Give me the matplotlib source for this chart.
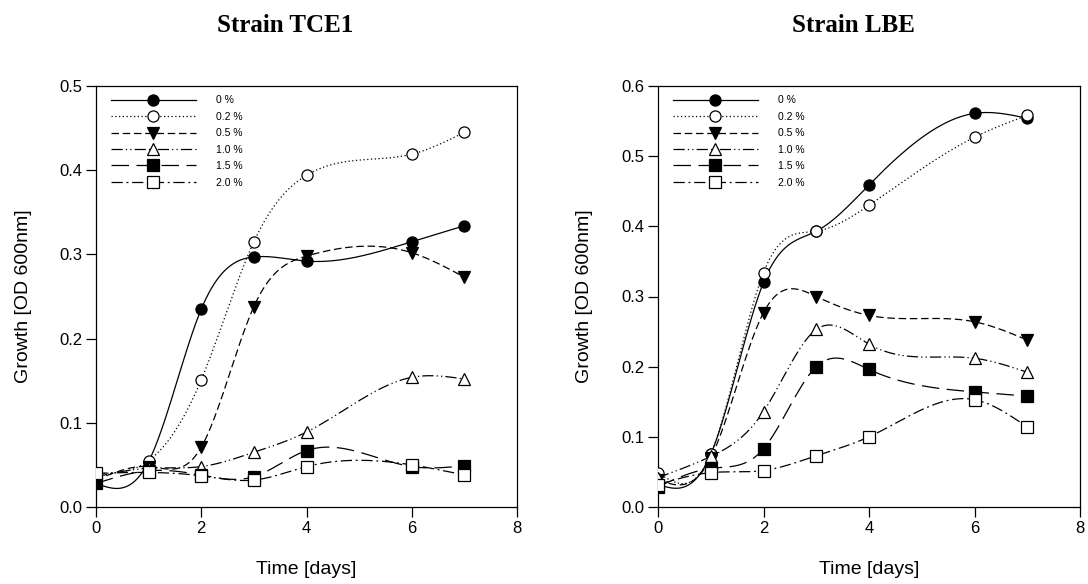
import numpy as np
import matplotlib
matplotlib.use("Agg")
import matplotlib.pyplot as plt
from matplotlib.lines import Line2D

plt.rcParams['font.family'] = ['Liberation Sans', 'DejaVu Sans']

days = [0, 1, 2, 3, 4, 6, 7]
labels = ["0 %", "0.2 %", "0.5 %", "1.0 %", "1.5 %", "2.0 %"]

# Strain TCE1
tce1_0 = [0.028, 0.054, 0.235, 0.297, 0.292, 0.315, 0.334]
tce1_02 = [0.040, 0.055, 0.151, 0.315, 0.394, 0.419, 0.445]
tce1_05 = [0.032, 0.048, 0.071, 0.238, 0.298, 0.302, 0.273]
tce1_10 = [0.036, 0.046, 0.048, 0.065, 0.089, 0.154, 0.152]
tce1_15 = [0.028, 0.043, 0.038, 0.036, 0.067, 0.048, 0.049]
tce1_20 = [0.040, 0.041, 0.037, 0.032, 0.048, 0.050, 0.038]

# Strain LBE
lbe_0 = [0.032, 0.075, 0.320, 0.393, 0.459, 0.561, 0.554]
lbe_02 = [0.049, 0.075, 0.334, 0.393, 0.430, 0.527, 0.558]
lbe_05 = [0.039, 0.070, 0.277, 0.300, 0.273, 0.264, 0.238]
lbe_10 = [0.042, 0.072, 0.136, 0.253, 0.232, 0.212, 0.192]
lbe_15 = [0.029, 0.055, 0.083, 0.200, 0.196, 0.164, 0.158]
lbe_20 = [0.032, 0.049, 0.052, 0.073, 0.100, 0.153, 0.114]

styles = [
    dict(ls='-', marker='o', mfc='black'),
    dict(ls=(0, (1, 2)), marker='o', mfc='white'),
    dict(ls=(0, (6, 3)), marker='v', mfc='black'),
    dict(ls=(0, (9, 2.5, 1, 2.5, 1, 2.5)), marker='^', mfc='white'),
    dict(ls=(0, (14, 6)), marker='s', mfc='black'),
    dict(ls=(0, (9, 3, 1.5, 3)), marker='s', mfc='white'),
]


def natural_spline(x, y, n=300):
    x = np.asarray(x, float)
    y = np.asarray(y, float)
    k = len(x)
    h = np.diff(x)
    A = np.zeros((k, k))
    r = np.zeros(k)
    A[0, 0] = 1
    A[-1, -1] = 1
    for i in range(1, k - 1):
        A[i, i - 1] = h[i - 1]
        A[i, i] = 2 * (h[i - 1] + h[i])
        A[i, i + 1] = h[i]
        r[i] = 6 * ((y[i + 1] - y[i]) / h[i] - (y[i] - y[i - 1]) / h[i - 1])
    M = np.linalg.solve(A, r)
    xs = np.linspace(x[0], x[-1], n)
    idx = np.clip(np.searchsorted(x, xs) - 1, 0, k - 2)
    x0, x1 = x[idx], x[idx + 1]
    hh = x1 - x0
    a = (x1 - xs) / hh
    b = (xs - x0) / hh
    ys = (a * y[idx] + b * y[idx + 1]
          + ((a ** 3 - a) * M[idx] + (b ** 3 - b) * M[idx + 1]) * hh ** 2 / 6)
    return xs, ys


fig = plt.figure(figsize=(10.88, 5.84), dpi=100)
W, H = 1088, 584


def make_axes(x0, x1, y0, y1):
    return fig.add_axes([x0 / W, 1 - y1 / H, (x1 - x0) / W, (y1 - y0) / H])


panels = [
    (make_axes(96, 517, 86, 507), [tce1_0, tce1_02, tce1_05, tce1_10, tce1_15, tce1_20],
     0.5, "Strain TCE1", 285),
    (make_axes(658, 1080, 86, 507), [lbe_0, lbe_02, lbe_05, lbe_10, lbe_15, lbe_20],
     0.6, "Strain LBE", 853),
]

for ax, series, ymax, title, tx in panels:
    handles = []
    for vals, st, lab in zip(series, styles, labels):
        xs, ys = natural_spline(days, vals)
        ax.plot(xs, ys, color='black', lw=0.9, linestyle=st['ls'], zorder=2)
        ax.plot(days, vals, linestyle='none', marker=st['marker'], ms=8,
                mfc=st['mfc'], mec='black', mew=0.9, zorder=3)
        handles.append(Line2D([], [], color='black', lw=0.9, linestyle=st['ls'],
                              marker=st['marker'], ms=8, mfc=st['mfc'],
                              mec='black', mew=0.9))
    ax.set_xlim(0, 8)
    ax.set_ylim(0, ymax)
    ax.set_xticks([0, 2, 4, 6, 8])
    ax.set_yticks(np.round(np.arange(0, ymax + 0.001, 0.1), 1))
    ax.set_yticklabels([f"{v:.1f}" for v in np.arange(0, ymax + 0.001, 0.1)])
    ax.tick_params(direction='out', length=7, width=0.9, labelsize=12, pad=3,
                   top=False, right=False)
    for sp in ax.spines.values():
        sp.set_linewidth(0.9)
    ax.set_xlabel("Time [days]", fontsize=14)
    ax.set_ylabel("Growth [OD 600nm]", fontsize=14)
    ax.xaxis.set_label_coords(0.5, -0.128)
    ax.yaxis.set_label_coords(-0.153, 0.5)
    leg = ax.legend(handles, labels, loc='upper left', bbox_to_anchor=(0.035, 0.978),
                    frameon=False, fontsize=7.5, handlelength=8.2, handletextpad=1.9,
                    labelspacing=0.62, borderpad=0, borderaxespad=0, markerscale=1.0,
                    numpoints=1)
    fig.text(tx / W, 1 - 25 / H, title, ha='center', va='center',
             family=['Liberation Serif', 'DejaVu Serif'], fontweight='bold', fontsize=18)

fig.savefig("out.png", dpi=100)
